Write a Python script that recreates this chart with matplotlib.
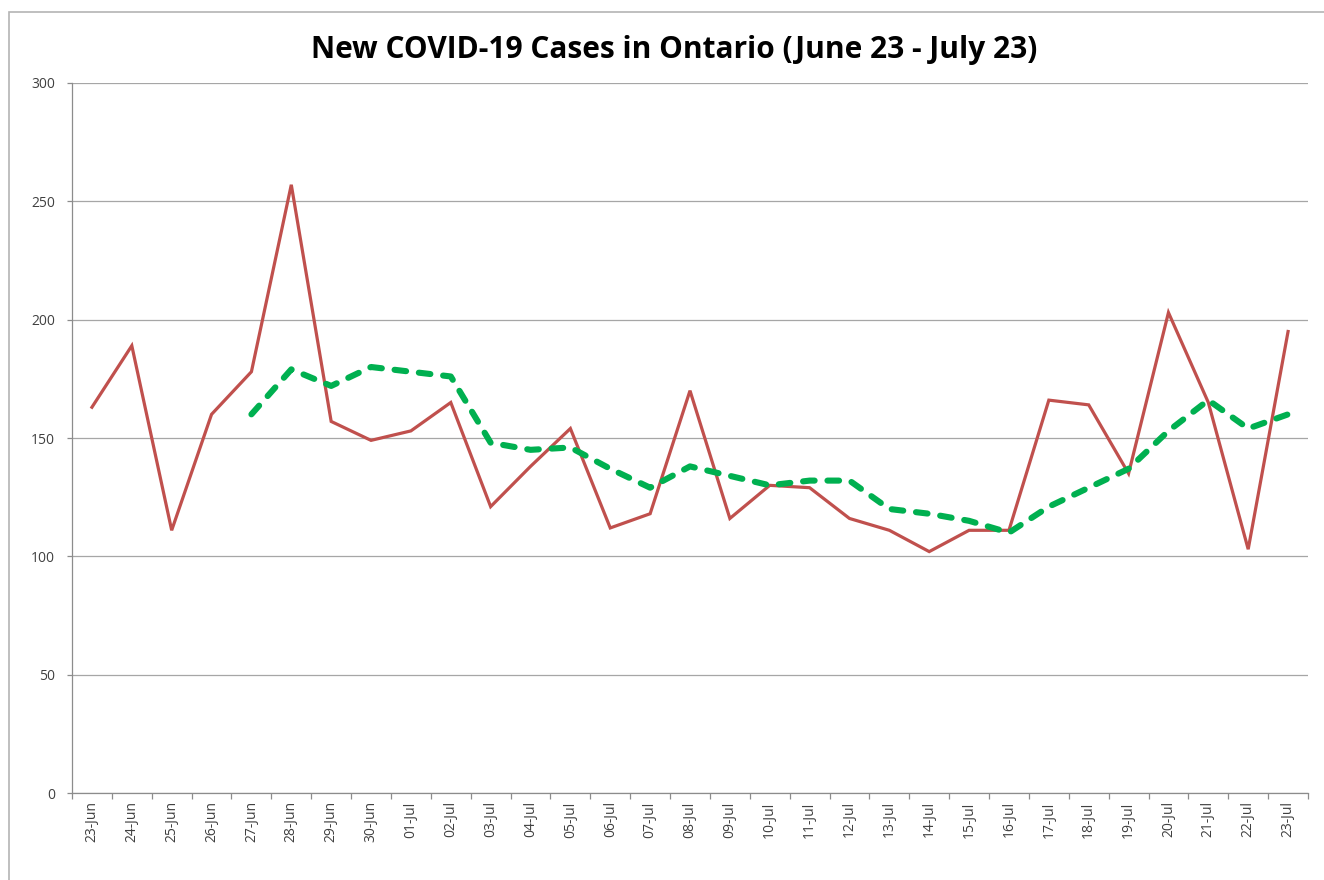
import matplotlib
matplotlib.use('Agg')
import matplotlib.pyplot as plt
from matplotlib.patches import Rectangle

DATES = ['23-Jun', '24-Jun', '25-Jun', '26-Jun', '27-Jun', '28-Jun', '29-Jun', '30-Jun',
         '01-Jul', '02-Jul', '03-Jul', '04-Jul', '05-Jul', '06-Jul', '07-Jul', '08-Jul',
         '09-Jul', '10-Jul', '11-Jul', '12-Jul', '13-Jul', '14-Jul', '15-Jul', '16-Jul',
         '17-Jul', '18-Jul', '19-Jul', '20-Jul', '21-Jul', '22-Jul', '23-Jul']

NEW_CASES = [163, 189, 111, 160, 178, 257, 157, 149, 153, 165, 121, 138, 154, 112, 118,
             170, 116, 130, 129, 116, 111, 102, 111, 111, 166, 164, 135, 203, 165, 103, 195]

# trend line starts on 27-Jun
AVG_START = 4
AVG_CASES = [160, 179, 172, 180, 178, 176, 148, 145, 146, 137, 129, 138, 134, 130,
             132, 132, 120, 118, 115, 110, 121, 129, 137, 153, 166, 154, 160]

Y_TICKS = [0, 50, 100, 150, 200, 250, 300]

plt.rcParams['font.family'] = ['Open Sans', 'DejaVu Sans']

fig = plt.figure(figsize=(13.24, 8.8), dpi=100)
ax = fig.add_axes([72 / 1324, 87 / 880, (1308 - 72) / 1324, (793 - 83) / 880])

# chart area border (cut off on the right and bottom in the reference)
fig.patches.append(Rectangle((9 / 1324, -0.05), 1.2, (880 - 12) / 880 + 0.05,
                             transform=fig.transFigure, fill=False,
                             edgecolor='#b4b4b4', linewidth=1.2))

x = list(range(len(DATES)))
ax.plot(x, NEW_CASES, color='#c0504d', linewidth=2.3, solid_joinstyle='miter')
ax.plot(x[AVG_START:], AVG_CASES, color='#00b050', linewidth=4.4,
        dashes=(1.9, 2.1), dash_capstyle='round', dash_joinstyle='round')

ax.set_xlim(-0.5, len(DATES) - 0.5)
ax.set_ylim(0, 300)
ax.set_yticks(Y_TICKS)
ax.set_yticklabels([str(v) for v in Y_TICKS], fontsize=10, color='#404040')
ax.yaxis.grid(True, color='#a6a6a6', linewidth=0.9)
ax.set_axisbelow(True)

ax.set_xticks(x)
ax.set_xticklabels(DATES, rotation=90, fontsize=10, color='#404040')
ax.tick_params(axis='x', length=0, pad=6)
ax.set_xticks([i - 0.5 for i in range(len(DATES) + 1)], minor=True)
ax.tick_params(axis='x', which='minor', length=4, color='#8c8c8c', width=0.9)
ax.tick_params(axis='y', length=3.6, color='#8c8c8c', width=0.9, pad=8.5)

for side in ('top', 'right'):
    ax.spines[side].set_visible(False)
for side in ('left', 'bottom'):
    ax.spines[side].set_color('#8c8c8c')
    ax.spines[side].set_linewidth(0.9)

fig.text(0.509, 1 - 50 / 880, 'New COVID-19 Cases in Ontario (June 23 - July 23)',
         ha='center', va='center', fontsize=21.5, fontweight='bold', color='#000000',
         fontstretch='condensed')

fig.savefig('out.png', dpi=100)
